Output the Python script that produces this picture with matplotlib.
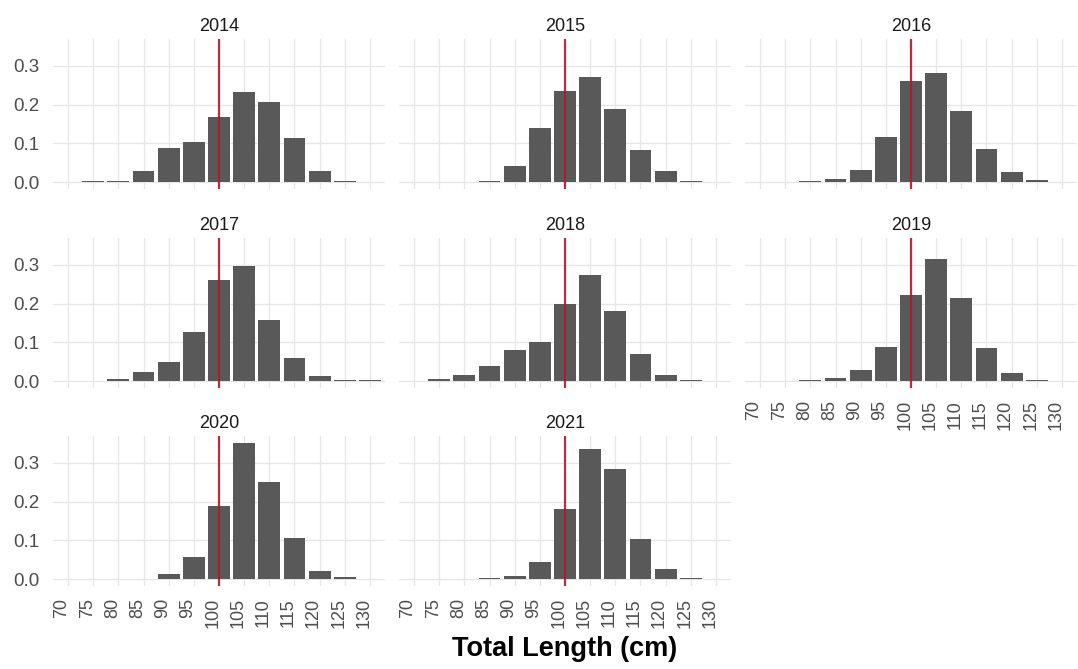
import numpy as np
import matplotlib
matplotlib.use('Agg')
import matplotlib.pyplot as plt
from matplotlib.transforms import ScaledTranslation

matplotlib.rcParams['font.family'] = ['Liberation Sans', 'DejaVu Sans']

# length bins (cm), bar centres
bins = [75, 80, 85, 90, 95, 100, 105, 110, 115, 120, 125, 130]
years = ['2014', '2015', '2016', '2017', '2018', '2019', '2020', '2021']

# proportion of fish in each bin
p2014 = [0.002, 0.004, 0.030, 0.089, 0.103, 0.169, 0.234, 0.206, 0.115, 0.030, 0.004, 0.001]
p2015 = [0.001, 0.001, 0.004, 0.043, 0.139, 0.236, 0.272, 0.189, 0.082, 0.028, 0.004, 0.000]
p2016 = [0.001, 0.002, 0.007, 0.032, 0.117, 0.262, 0.282, 0.184, 0.085, 0.026, 0.005, 0.001]
p2017 = [0.000, 0.006, 0.024, 0.049, 0.128, 0.262, 0.298, 0.159, 0.060, 0.014, 0.003, 0.002]
p2018 = [0.006, 0.016, 0.040, 0.081, 0.102, 0.200, 0.275, 0.180, 0.071, 0.016, 0.004, 0.000]
p2019 = [0.000, 0.002, 0.008, 0.028, 0.089, 0.222, 0.315, 0.214, 0.086, 0.021, 0.003, 0.000]
p2020 = [0.000, 0.000, 0.001, 0.014, 0.057, 0.189, 0.352, 0.250, 0.106, 0.021, 0.005, 0.001]
p2021 = [0.0005, 0.001, 0.003, 0.008, 0.044, 0.180, 0.337, 0.285, 0.104, 0.026, 0.003, 0.000]
props = [p2014, p2015, p2016, p2017, p2018, p2019, p2020, p2021]

min_size = 100
xticks = list(range(70, 131, 5))
yticks = [0.0, 0.1, 0.2, 0.3]

W, H = 1078, 669
fig = plt.figure(figsize=(W / 100, H / 100), dpi=100)

col_left = [53, 399, 745]
row_top = [39, 238, 436]
pw, ph = 332, 150

ymax = max(max(p) for p in props)
ylim = (-0.05 * ymax, 1.05 * ymax)

for i, (yr, p) in enumerate(zip(years, props)):
    r, c = divmod(i, 3)
    x0 = col_left[c]
    y0 = row_top[r] + ph
    ax = fig.add_axes([x0 / W, 1 - y0 / H, pw / W, ph / H])
    ax.set_xlim(67, 133)
    ax.set_ylim(*ylim)
    ax.set_xticks(xticks)
    ax.set_yticks(yticks)
    ax.grid(True, color='#E6E6E6', lw=0.9, zorder=0)
    ax.set_axisbelow(True)
    for s in ax.spines.values():
        s.set_visible(False)
    ax.tick_params(length=0, colors='#4D4D4D')

    # tiny bins still show as a thin line, like geom_col
    h = [max(v, 0.0015) if v > 0 else 0 for v in p]
    ax.bar(bins, h, width=4.35, color='#595959', linewidth=0, zorder=2)
    ax.axvline(min_size, color='#B3172F', lw=1.6, alpha=0.9, zorder=3)

    ax.set_title(yr, fontsize=13, color='#1A1A1A', pad=6)

    if c == 0:
        ax.set_yticklabels([f'{v:.1f}' for v in yticks], fontsize=13.5, color='#4D4D4D')
        ax.tick_params(axis='y', pad=10)
    else:
        ax.set_yticklabels([])

    ax.set_xticklabels([])
    if i >= 5:
        # rotated labels sit a little left of their tick, as in ggplot's angle = 90
        tr = ax.get_xaxis_transform() + ScaledTranslation(-6 / 100, -12 / 100, fig.dpi_scale_trans)
        for v in xticks:
            ax.text(v, 0, str(v), transform=tr, rotation=90, ha='center', va='top',
                    fontsize=13, color='#4D4D4D')

fig.text(565 / W, 1 - 649 / H, 'Total Length (cm)', ha='center', va='center',
         fontsize=19.5, fontweight='bold', color='black')

fig.savefig('out.png', dpi=100, facecolor='white')
